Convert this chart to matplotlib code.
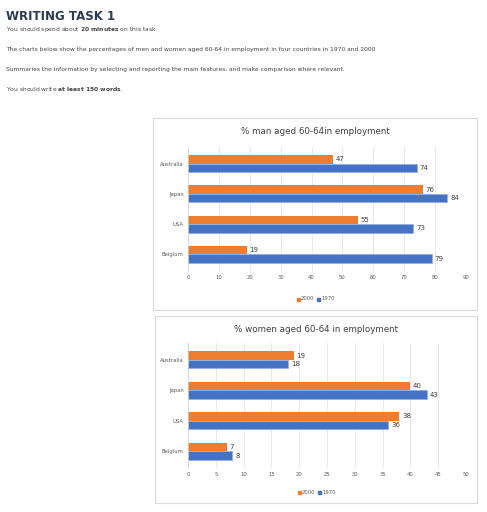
import matplotlib
matplotlib.use("Agg")
import matplotlib.pyplot as plt
from matplotlib.patches import Rectangle

countries = ["Australia", "Japan", "USA", "Beigium"]
men_2000 = [47, 76, 55, 19]
men_1970 = [74, 84, 73, 79]
women_2000 = [19, 40, 38, 7]
women_1970 = [18, 43, 36, 8]
men_ticks = list(range(0, 91, 10))
women_ticks = list(range(0, 51, 5))

W, H = 487, 512
fig = plt.figure(figsize=(W/100, H/100), dpi=100)
fig.patch.set_facecolor("white")

def fx(x): return x / W
def fy(y): return 1 - y / H

fig.text(fx(6), fy(16), "WRITING TASK 1", fontsize=8.5, fontweight="bold", color="#2b3a55", va="center")
fig.text(fx(6), fy(29), "You should spend about $\\bf{20\\ minutes}$ on this task.", fontsize=4.3, color="#444", va="center")
fig.text(fx(6), fy(50), "The charts below show the percentages of men and women aged 60-64 in employment in four countries in 1970 and 2000", fontsize=4.3, color="#444", va="center")
fig.text(fx(6), fy(70), "Summaries the information by selecting and reporting the main features, and make comparison where relevant.", fontsize=4.3, color="#444", va="center")
fig.text(fx(6), fy(89), "You should write $\\bf{at\\ least\\ 150\\ words}$.", fontsize=4.3, color="#444", va="center")

ORANGE = "#ed7d31"
BLUE = "#4472c4"

def chart(box, axrect, title, v2000, v1970, ticks, xmax):
    x0, y0, x1, y1 = box
    fig.patches.append(Rectangle((fx(x0), fy(y1)), fx(x1-x0), (y1-y0)/H, transform=fig.transFigure,
                                 fill=False, edgecolor="#d9d9d9", linewidth=0.8))
    fig.text(fx((x0+x1)/2), fy(y0+14), title, fontsize=6.3, color="#404040", ha="center", va="center")
    ax0, ay0, ax1, ay1 = axrect
    ax = fig.add_axes([fx(ax0), fy(ay1), fx(ax1-ax0), (ay1-ay0)/H])
    n = len(countries)
    pos = list(range(n))[::-1]
    h = 0.28
    b1 = ax.barh([p + h/2 for p in pos], v2000, height=h, color=ORANGE)
    b2 = ax.barh([p - h/2 for p in pos], v1970, height=h, color=BLUE, edgecolor="#8faadc", linewidth=0.4)
    for bars in (b1, b2):
        ax.bar_label(bars, padding=2, fontsize=5, color="#404040")
    ax.set_xlim(0, xmax)
    ax.set_ylim(-0.55, n - 0.45)
    ax.set_xticks(ticks)
    ax.set_yticks(pos)
    ax.set_yticklabels(countries)
    ax.tick_params(axis="both", labelsize=3.8, colors="#595959", length=0, pad=3)
    ax.grid(axis="x", color="#e0e0e0", linewidth=0.5)
    ax.set_axisbelow(True)
    for s in ("top", "right", "bottom"):
        ax.spines[s].set_visible(False)
    ax.spines["left"].set_color("#d0d0d0")
    ax.spines["left"].set_linewidth(0.5)
    ly = fy(y1 - 11)
    cx = fx((x0+x1)/2)
    fig.patches.append(Rectangle((cx - fx(18), ly - 0.003), fx(3), 3/H, transform=fig.transFigure, color=ORANGE))
    fig.text(cx - fx(14), ly, "2000", fontsize=3.8, color="#595959", va="center")
    fig.patches.append(Rectangle((cx + fx(2), ly - 0.003), fx(3), 3/H, transform=fig.transFigure, color=BLUE))
    fig.text(cx + fx(6), ly, "1970", fontsize=3.8, color="#595959", va="center")

chart((153, 118, 477, 310), (188, 147, 466, 271), "% man aged 60-64in employment", men_2000, men_1970, men_ticks, 90)
chart((155, 316, 477, 503), (188, 343, 466, 468), "% women aged 60-64 in employment", women_2000, women_1970, women_ticks, 50)

fig.savefig("out.png", dpi=100)
